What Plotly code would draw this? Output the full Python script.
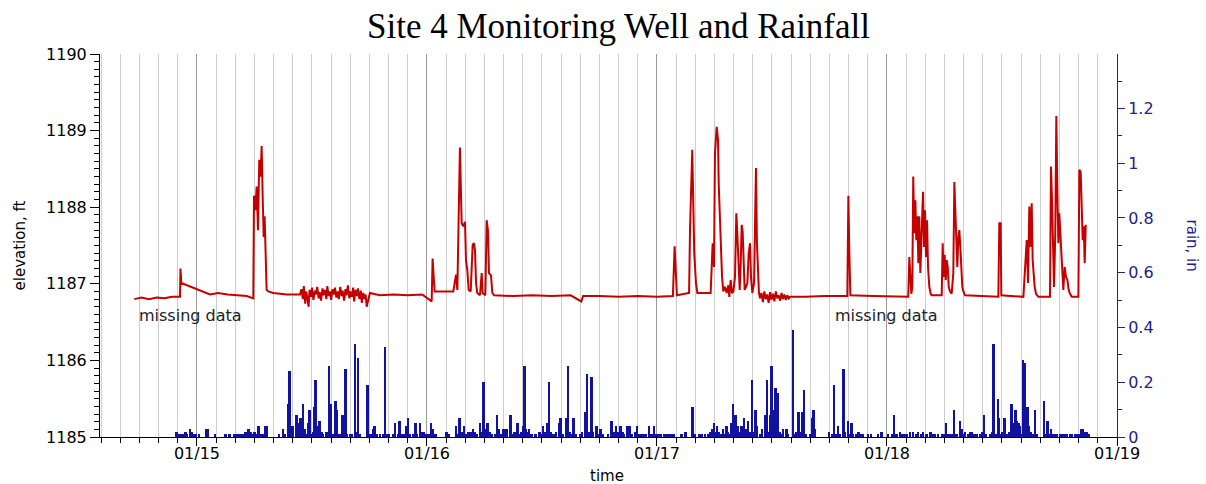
import pandas as pd
import plotly.graph_objects as go

# well elevation (hours after 01/15 00:00, feet)
elev_hours = [
    -6.54, -5.8, -5.0, -4.2, -3.4, -2.6, -1.77, -1.72, -1.63,
    1.36, 2.2, 3.2, 4.2, 5.2, 5.88, 5.95, 6.09, 6.23, 6.37, 6.50, 6.64, 6.75, 6.85, 6.96,
    7.06, 7.17, 7.27, 7.44, 7.96, 9.36, 10.75,
    10.9, 11.05, 11.15, 11.3, 11.4, 11.5, 11.65, 11.75, 11.9, 12.0,
    12.15, 12.3, 12.4, 12.55, 12.7, 12.8, 12.95, 13.1, 13.2, 13.35,
    13.5, 13.6, 13.75, 13.9, 14.0, 14.15, 14.3, 14.4, 14.55, 14.7,
    14.8, 14.95, 15.1, 15.2, 15.35, 15.5, 15.6, 15.75, 15.9, 16.0,
    16.15, 16.3, 16.4, 16.55, 16.7, 16.8, 16.95, 17.1, 17.2, 17.35,
    17.5, 17.6, 17.71, 18.05,
    19.1, 20.5, 22.0, 23.5, 24.49, 24.59, 24.70, 24.80, 26.75, 27.03, 27.17,
    27.44, 27.62, 27.79, 27.97, 28.07, 28.21, 28.35, 28.56, 28.77, 28.91, 29.01, 29.12,
    29.25, 29.53, 29.71, 29.81, 30.09, 30.23, 30.36, 30.47, 30.68, 30.82, 31.0,
    33.0, 35.0, 37.0, 39.0, 40.1, 40.3, 42.0, 44.0, 46.0, 48.0, 49.66, 49.84, 49.94, 50.08,
    51.35, 51.45, 51.68, 51.79, 51.89, 52.07, 52.21, 53.60, 53.71, 53.81, 53.95,
    54.05, 54.23, 54.37, 54.44, 54.54, 54.65, 54.79, 54.92, 55.10, 55.27, 55.45, 55.55,
    55.69, 55.83, 55.97, 56.14, 56.28, 56.38, 56.53, 56.63, 56.73, 56.84, 56.94, 57.05,
    57.15, 57.29, 57.43, 57.57, 57.71, 57.81, 57.95, 58.13, 58.23, 58.33, 58.43, 58.54,
    58.64, 58.75,
    58.9, 59.05, 59.2, 59.35, 59.5, 59.65, 59.8, 59.95, 60.1, 60.25, 60.4,
    60.55, 60.7, 60.85, 61.0, 61.15, 61.3, 61.45, 61.6, 61.75, 61.88,
    63.5, 65.5, 67.86, 67.97, 68.07, 68.18, 70.57,
    74.12, 74.22, 74.33, 74.43, 74.54, 74.64, 74.74, 74.85, 74.96, 75.06, 75.17, 75.27,
    75.37, 75.48, 75.58, 75.69, 75.76, 75.87, 75.97, 76.07, 76.18, 76.28, 76.42, 76.56,
    76.66, 77.71, 77.81, 77.92, 78.02, 78.13, 78.23, 78.34, 78.44, 78.58, 78.75, 78.92,
    79.03, 79.13, 79.24, 79.34, 79.45, 79.55, 79.65, 79.76, 79.86, 79.97, 80.14,
    83.62, 83.72, 83.86, 83.93, 86.23, 86.40, 86.58, 86.72, 86.85, 86.96, 87.10, 87.20,
    87.31, 87.41, 87.55, 87.79, 89.01, 89.11, 89.22, 89.32, 89.43, 89.56, 89.67, 89.77,
    89.88, 89.98, 90.09, 90.19, 90.30, 90.40, 90.54, 90.68, 90.82, 90.96, 91.10, 91.28,
    91.97, 92.07, 92.21, 92.32, 92.42, 92.53, 92.63, 92.74,
]
elev_ft = [
    1186.80, 1186.82, 1186.80, 1186.82, 1186.81, 1186.83, 1186.83, 1187.20, 1187.01,
    1186.86, 1186.88, 1186.86, 1186.85, 1186.84, 1186.81, 1188.15, 1187.96, 1188.27, 1187.70, 1188.62, 1188.40, 1188.80, 1188.18, 1187.61,
    1187.88, 1187.27, 1186.92, 1186.90, 1186.88, 1186.86, 1186.86,
    1186.93, 1186.80, 1186.97, 1186.74, 1186.90, 1186.84, 1186.70, 1186.92, 1186.83, 1186.95,
    1186.79, 1186.91, 1186.86, 1186.96, 1186.81, 1186.89, 1186.78, 1186.94, 1186.85, 1186.92,
    1186.80, 1186.97, 1186.84, 1186.90, 1186.79, 1186.93, 1186.86, 1186.95, 1186.82, 1186.90,
    1186.80, 1186.96, 1186.84, 1186.91, 1186.78, 1186.93, 1186.85, 1186.98, 1186.81, 1186.90,
    1186.83, 1186.95, 1186.77, 1186.92, 1186.84, 1186.94, 1186.80, 1186.91, 1186.75, 1186.88,
    1186.80, 1186.86, 1186.70, 1186.88,
    1186.85, 1186.86, 1186.85, 1186.86, 1186.77, 1187.33, 1187.09, 1186.90, 1186.90, 1187.12, 1186.92,
    1188.78, 1187.79, 1187.75, 1187.81, 1187.31, 1187.18, 1186.92, 1186.90, 1187.51, 1187.53, 1187.44, 1187.01,
    1186.88, 1186.85, 1187.14, 1186.88, 1186.85, 1187.83, 1187.70, 1187.14, 1187.11, 1186.88, 1186.85,
    1186.84, 1186.85, 1186.84, 1186.85, 1186.77, 1186.84, 1186.84, 1186.83, 1186.84, 1186.83, 1186.84, 1187.49, 1187.22, 1186.85,
    1186.88, 1187.72, 1188.75, 1187.92, 1187.40, 1187.01, 1186.88, 1186.88, 1187.22, 1187.53, 1187.22,
    1188.70, 1189.05, 1188.88, 1188.31, 1187.88, 1187.44, 1187.09, 1186.90, 1186.96, 1186.88, 1186.98, 1186.83,
    1187.05, 1186.88, 1186.90, 1187.09, 1187.92, 1187.66, 1187.18, 1186.92, 1187.22, 1187.77, 1187.68, 1187.22,
    1186.92, 1186.96, 1187.01, 1187.40, 1187.53, 1187.09, 1186.88, 1187.01, 1187.96, 1188.51, 1187.53, 1187.27,
    1186.88, 1186.81,
    1186.88, 1186.76, 1186.90, 1186.80, 1186.86, 1186.75, 1186.89, 1186.79, 1186.87, 1186.77, 1186.90,
    1186.81, 1186.85, 1186.78, 1186.88, 1186.80, 1186.86, 1186.79, 1186.85, 1186.81, 1186.83,
    1186.83, 1186.84, 1186.84, 1188.15, 1187.42, 1186.85, 1186.84,
    1186.83, 1186.83, 1187.35, 1187.14, 1186.87, 1186.96, 1188.40, 1187.66, 1188.09, 1187.57, 1187.88, 1187.27,
    1187.88, 1187.14, 1187.66, 1188.01, 1188.20, 1187.48, 1187.96, 1187.35, 1187.83, 1187.22, 1186.96, 1186.87,
    1186.85, 1186.85, 1187.53, 1187.09, 1187.38, 1187.05, 1187.31, 1187.22, 1186.96, 1186.90, 1186.87, 1187.14,
    1188.33, 1187.96, 1187.57, 1187.22, 1187.61, 1187.70, 1187.48, 1187.14, 1186.96, 1186.90, 1186.85,
    1186.83, 1187.79, 1187.79, 1186.85, 1186.83, 1187.18, 1187.57, 1187.01, 1188.01, 1187.48, 1188.05, 1187.31,
    1187.14, 1186.96, 1186.87, 1186.83, 1186.83, 1188.53, 1188.09, 1187.53, 1186.96, 1187.66, 1189.19, 1188.27,
    1187.53, 1187.92, 1187.66, 1187.40, 1187.14, 1186.92, 1187.22, 1187.09, 1187.05, 1186.92, 1186.87, 1186.83,
    1186.83, 1188.49, 1188.46, 1188.09, 1187.57, 1187.75, 1187.27, 1187.77,
]

# rainfall (hours after 01/15 00:00, inches)
rain_hours = [
    -2.12, -1.95, -1.78, -1.64, -1.50, -1.18, -1.01, -0.73, -0.56, -0.38, -0.11, 0.21,
    1.01, 1.18, 1.88, 2.99, 3.44, 3.96, 4.14, 4.38, 4.59, 4.77, 5.01, 5.25, 5.42, 5.60,
    5.81, 6.05, 6.30, 6.43, 6.64, 6.85, 7.13, 7.27, 8.59, 9.01, 9.22, 9.56, 9.70, 9.84,
    9.98, 10.40, 10.57, 10.71, 10.85, 10.99, 11.09, 11.27, 11.44, 11.62, 11.79, 11.96,
    12.14, 12.28, 12.38, 12.56, 12.69, 12.83, 13.01, 13.18, 13.53, 13.81, 14.02, 14.23,
    14.47, 14.61, 14.82, 14.99, 15.20, 15.37, 15.51, 15.65, 15.97, 16.21, 16.52, 16.70,
    16.83, 17.01, 17.81, 17.95, 18.16, 18.40, 18.54, 18.75, 19.10, 19.44, 19.65, 19.86,
    20.07, 20.49, 20.66, 21.01, 21.18, 21.42, 21.70, 21.88, 22.05, 22.23, 22.57, 22.82,
    22.99, 23.27, 23.44, 23.69, 23.96, 24.17, 24.45, 24.66, 24.90, 26.05, 26.26, 27.03,
    27.17, 27.44, 27.65, 27.86, 28.03, 28.38, 28.62, 28.83, 29.01, 29.18,
    29.53, 29.71, 29.91, 30.05, 30.33, 30.54, 30.75, 31.10, 31.34, 31.55, 31.79, 32.00,
    32.18, 32.35, 32.73, 33.01, 33.18, 33.46, 33.71, 33.88, 34.05, 34.19, 34.33, 34.51,
    34.68, 34.92, 35.34, 35.76, 35.97, 36.14, 36.31, 36.52, 36.66, 36.77, 36.91, 37.22,
    37.46, 37.81, 37.98, 38.23, 38.58, 38.75, 38.92, 39.10, 39.31, 39.51, 40.00, 40.21,
    40.49, 40.73, 40.91, 41.18, 41.36, 41.71, 41.88, 42.12, 42.40, 42.92, 43.27, 43.48,
    43.72, 43.97, 44.21, 44.42, 44.56, 44.94, 45.18, 45.36, 45.71, 45.95, 46.16, 46.40,
    46.65, 46.85, 47.17, 47.44, 47.69, 47.90, 48.14, 48.38, 48.73, 49.01, 49.29, 49.53,
    49.78, 50.58, 51.00, 51.72, 51.97, 52.38, 52.66, 53.01, 53.36, 53.57, 53.74, 53.95,
    54.12, 54.30, 54.50, 54.75, 54.92, 55.10, 55.27, 55.44, 55.62, 55.79, 55.93, 56.11,
    56.24, 56.42, 56.66, 56.84, 57.11, 57.29, 57.53, 57.74, 57.95, 58.12, 58.30, 58.47,
    58.75, 58.99, 59.27, 59.51, 59.69, 59.83, 59.97, 60.14, 60.38, 60.66, 60.84, 61.01,
    61.19, 61.54, 61.71, 62.23, 62.41, 62.58, 62.79, 62.96, 63.14, 63.34, 63.55, 64.04,
    64.21, 64.35, 64.53, 65.95, 66.30, 66.51, 66.65, 66.93, 67.10, 67.48, 67.66, 67.94,
    68.14, 68.32, 68.49, 68.84, 69.05, 69.19, 69.47, 70.06, 70.34, 71.10, 71.45, 72.14,
    72.53, 72.77, 73.01, 73.36, 73.61, 73.78, 74.06, 74.41, 74.75, 75.10, 75.27, 75.62,
    75.80, 76.14, 76.56, 76.77, 77.01, 77.36, 77.78, 77.95, 78.16, 78.41, 78.65, 78.86,
    79.03, 79.27, 79.62, 79.80, 79.97, 80.18, 80.49, 80.67, 80.91, 81.08, 81.36, 81.71,
    81.92, 82.13, 82.34, 82.75, 82.96, 83.14, 83.38, 83.59, 83.73, 83.87, 84.08, 84.28,
    84.49, 84.77, 85.01, 85.19, 85.33, 85.43, 85.60, 85.74, 85.92, 86.06, 86.20, 86.44,
    86.58, 86.68, 86.86, 87.00, 87.20, 87.45, 87.62, 88.42, 88.60, 88.77, 88.94, 89.12,
    89.29, 89.54, 89.78, 90.06, 90.34, 90.58, 90.82, 91.10, 91.34, 91.62, 91.80, 92.04,
    92.32, 92.49, 92.74, 92.91, 93.08,
]
rain_in = [
    0.02, 0.01, 0.01, 0.01, 0.01, 0.02, 0.01, 0.03, 0.02, 0.01, 0.01, 0.01,
    0.03, 0.03, 0.01, 0.01, 0.01, 0.01, 0.01, 0.01, 0.01, 0.01, 0.02, 0.02, 0.03, 0.02,
    0.01, 0.02, 0.01, 0.04, 0.01, 0.01, 0.04, 0.04, 0.01, 0.03, 0.01, 0.12, 0.24, 0.04,
    0.04, 0.08, 0.05, 0.04, 0.07, 0.04, 0.12, 0.03, 0.01, 0.05, 0.10, 0.01,
    0.02, 0.11, 0.21, 0.02, 0.04, 0.06, 0.02, 0.01, 0.02, 0.26, 0.12, 0.01,
    0.13, 0.10, 0.01, 0.01, 0.08, 0.01, 0.25, 0.01, 0.01, 0.01, 0.34, 0.02,
    0.29, 0.01, 0.19, 0.01, 0.01, 0.03, 0.04, 0.01, 0.01, 0.01, 0.33, 0.01,
    0.01, 0.01, 0.05, 0.01, 0.06, 0.01, 0.01, 0.04, 0.07, 0.01, 0.01, 0.05,
    0.01, 0.05, 0.02, 0.02, 0.01, 0.01, 0.05, 0.03, 0.01, 0.02, 0.01, 0.04,
    0.01, 0.07, 0.02, 0.04, 0.01, 0.02, 0.02, 0.03, 0.02, 0.01,
    0.05, 0.02, 0.20, 0.03, 0.05, 0.02, 0.01, 0.01, 0.08, 0.03, 0.01, 0.03,
    0.03, 0.03, 0.08, 0.01, 0.02, 0.05, 0.01, 0.02, 0.04, 0.26, 0.03, 0.02,
    0.03, 0.01, 0.01, 0.02, 0.01, 0.04, 0.02, 0.05, 0.05, 0.20, 0.02, 0.01,
    0.02, 0.05, 0.07, 0.01, 0.07, 0.26, 0.02, 0.01, 0.07, 0.01, 0.01, 0.02,
    0.09, 0.23, 0.02, 0.22, 0.02, 0.04, 0.01, 0.03, 0.01, 0.01, 0.06, 0.02,
    0.04, 0.02, 0.04, 0.02, 0.01, 0.04, 0.04, 0.01, 0.02, 0.04, 0.01, 0.01,
    0.01, 0.01, 0.04, 0.01, 0.04, 0.01, 0.01, 0.01, 0.01, 0.01, 0.01, 0.01,
    0.01, 0.01, 0.02, 0.11, 0.01, 0.01, 0.01, 0.01, 0.01, 0.02, 0.03, 0.05,
    0.02, 0.04, 0.02, 0.01, 0.03, 0.01, 0.04, 0.02, 0.01, 0.05, 0.12, 0.02,
    0.08, 0.04, 0.02, 0.04, 0.07, 0.03, 0.06, 0.02, 0.21, 0.02, 0.10, 0.04,
    0.01, 0.03, 0.08, 0.21, 0.02, 0.08, 0.26, 0.10, 0.18, 0.16, 0.02, 0.01,
    0.03, 0.03, 0.01, 0.39, 0.01, 0.02, 0.09, 0.02, 0.09, 0.17, 0.01, 0.01,
    0.07, 0.10, 0.03, 0.02, 0.01, 0.19, 0.01, 0.04, 0.01, 0.25, 0.02, 0.06,
    0.01, 0.05, 0.01, 0.01, 0.02, 0.01, 0.01, 0.01, 0.01, 0.01, 0.02, 0.01,
    0.01, 0.08, 0.01, 0.02, 0.01, 0.01, 0.01, 0.02, 0.02, 0.01, 0.02, 0.01,
    0.02, 0.01, 0.02, 0.01, 0.01, 0.01, 0.01, 0.01, 0.05, 0.01, 0.01, 0.01,
    0.10, 0.01, 0.06, 0.03, 0.01, 0.02, 0.01, 0.02, 0.02, 0.01, 0.01, 0.01,
    0.02, 0.08, 0.01, 0.01, 0.02, 0.34, 0.01, 0.14, 0.07, 0.01, 0.02, 0.07,
    0.01, 0.02, 0.12, 0.05, 0.04, 0.10, 0.06, 0.05, 0.04, 0.01, 0.28, 0.27,
    0.07, 0.11, 0.04, 0.02, 0.01, 0.10, 0.01, 0.13, 0.01, 0.06, 0.01, 0.03,
    0.01, 0.01, 0.01, 0.01, 0.01, 0.01, 0.01, 0.01, 0.01, 0.01, 0.01, 0.01,
    0.03, 0.03, 0.02, 0.02, 0.01,
]

# "missing data" notes (hours after 01/15 00:00, ft)
note_hours = [-0.63, 71.9]
note_ft = [1186.58, 1186.58]

base = pd.Timestamp("2014-01-15 00:00")
def to_time(hours):
    return base + pd.to_timedelta(pd.Series(hours), unit="h")

elev_t = to_time(elev_hours)
rain_t = to_time(rain_hours)
note_t = to_time(note_hours)

NAVY = "#22228c"
SANS = "DejaVu Sans"

fig = go.Figure()

fig.add_trace(go.Scatter(
    x=elev_t, y=elev_ft,
    mode="lines",
    line=dict(color="#c40000", width=2),
    name="elevation",
    showlegend=False,
))

fig.add_trace(go.Bar(
    x=rain_t, y=rain_in,
    yaxis="y2",
    width=12 * 60 * 1000,
    marker=dict(color="#1212a0", line=dict(width=0)),
    name="rain",
    showlegend=False,
))

for t, v in zip(note_t, note_ft):
    fig.add_annotation(x=t, y=v, xref="x", yref="y", text="missing data",
                       showarrow=False, font=dict(family=SANS, size=16, color="#222222"))

fig.add_annotation(x=0.510, y=1.0705, xref="paper", yref="paper",
                   xanchor="center", yanchor="middle",
                   text="Site 4 Monitoring Well and Rainfall", showarrow=False,
                   font=dict(family="Liberation Serif", size=35, color="black"))
fig.add_annotation(x=-0.0787, y=0.5, xref="paper", yref="paper", textangle=-90,
                   xanchor="center", yanchor="middle",
                   text="elevation, ft", showarrow=False,
                   font=dict(family=SANS, size=15, color="black"))
fig.add_annotation(x=1.0747, y=0.5, xref="paper", yref="paper", textangle=90,
                   xanchor="center", yanchor="middle",
                   text="rain, in", showarrow=False,
                   font=dict(family=SANS, size=15, color=NAVY))
fig.add_annotation(x=0.4985, y=-0.102, xref="paper", yref="paper",
                   xanchor="center", yanchor="middle",
                   text="time", showarrow=False,
                   font=dict(family=SANS, size=15, color="black"))

fig.update_layout(
    width=1206, height=484,
    margin=dict(l=100, r=89, t=54, b=47),
    plot_bgcolor="white",
    paper_bgcolor="white",
    bargap=0,
    xaxis=dict(
        type="date",
        range=["2014-01-14 13:53", "2014-01-19 00:00"],
        tick0="2014-01-15", dtick=86400000,
        tickformat="%m/%d",
        ticks="outside", ticklen=8, tickcolor="black",
        ticklabelstandoff=-6,
        showline=True, linecolor="black", linewidth=1,
        showgrid=True, gridcolor="#999999", gridwidth=1,
        zeroline=False,
        tickfont=dict(family=SANS, size=16, color="black"),
        minor=dict(tick0="2014-01-15", dtick=7200000, ticks="outside", ticklen=5,
                   tickcolor="black", showgrid=True, gridcolor="#cdcdcd", gridwidth=1),
    ),
    yaxis=dict(
        range=[1185, 1190], tick0=1185, dtick=1,
        ticks="outside", ticklen=9, tickcolor="black",
        showline=True, linecolor="black", linewidth=1,
        showgrid=False, zeroline=False,
        tickfont=dict(family=SANS, size=16, color="black"),
        minor=dict(dtick=0.1, ticks="outside", ticklen=5, tickcolor="black", showgrid=False),
    ),
    yaxis2=dict(
        overlaying="y", side="right",
        range=[0, 1.399], tick0=0, dtick=0.2,
        ticks="outside", ticklen=7, tickcolor=NAVY,
        showline=True, linecolor=NAVY, linewidth=1,
        showgrid=False, zeroline=False,
        tickfont=dict(family=SANS, size=16, color=NAVY),
        minor=dict(dtick=0.1, ticks="outside", ticklen=4, tickcolor=NAVY, showgrid=False),
    ),
)

# the page body has a default 8px margin; drop it so the figure fills the window
fig.write_html("out.html", config={"displayModeBar": False},
               post_script="document.body.style.margin='0';")
